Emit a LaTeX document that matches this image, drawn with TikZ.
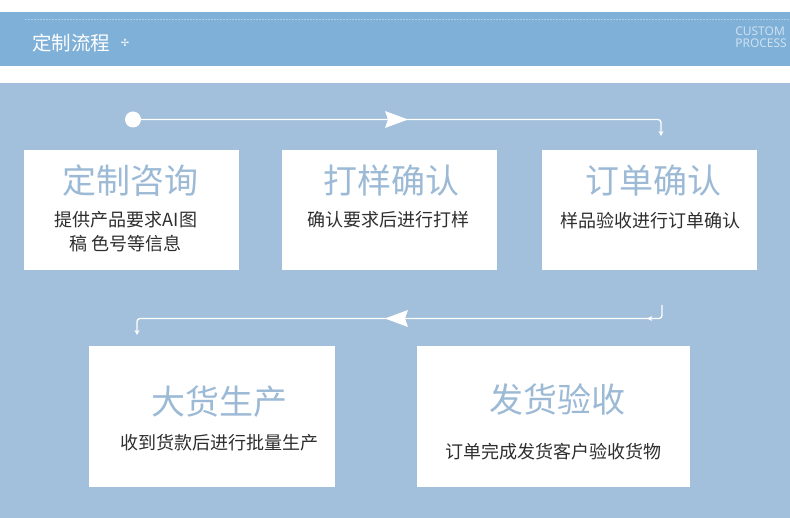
\documentclass[tikz,border=0pt]{standalone}
\usepackage{fontspec}
\setmainfont{Noto Sans CJK SC}
\newfontfamily\latinf{Noto Sans}
\newfontfamily\symf{DejaVu Sans}
\usetikzlibrary{arrows.meta}
\definecolor{hdr}{HTML}{7EB0D8}
\definecolor{bgc}{HTML}{A2BFDB}
\definecolor{ttl}{HTML}{9CBAD5}
\definecolor{subc}{HTML}{2E2E2E}
\definecolor{engc}{HTML}{CFE1F0}
\begin{document}
\begin{tikzpicture}[x=1pt,y=-1pt,
  card/.style={fill=white,draw=none,inner sep=0pt,minimum width=#1},
  cardtitle/.style={text=ttl,font=\fontsize{34}{36}\selectfont,inner sep=0pt},
  cardsub/.style={text=subc,font=\fontsize{18}{24}\selectfont,inner sep=0pt,align=center},
  flow/.style={draw=white,line width=1.3pt,rounded corners=3pt},
  tip/.style={-{Stealth[length=5pt,width=5pt]}}
]
\useasboundingbox (0,0) rectangle (790,518);
\fill[white] (0,0) rectangle (790,518);
% header band
\fill[hdr] (0,12) rectangle (790,66);
\draw[white!35!hdr,line width=0.6pt,dash pattern=on 1.5pt off 1.5pt] (25,19) -- (790,19);
\node[text=white,font=\fontsize{19.5}{20}\selectfont,anchor=west,inner sep=0pt] (htitle) at (32,43) {定制流程};
\node[text=white,font=\symf\fontsize{10}{10}\selectfont,inner sep=0pt] (hmark) at (125,43) {✢};
\node[text=engc,font=\latinf\fontsize{12}{12}\selectfont,anchor=east,align=left,inner sep=0pt] (heng) at (787,37) {CUSTOM\\PROCESS};
% main background
\fill[bgc] (0,83) rectangle (790,518);
% cards
\node[card=215pt,minimum height=120pt] (b1) at (131.5,210) {};
\node[card=215pt,minimum height=120pt] (b2) at (389.5,210) {};
\node[card=215pt,minimum height=120pt] (b3) at (649.5,210) {};
\node[card=246pt,minimum height=141pt] (b4) at (211.5,416.5) {};
\node[card=273pt,minimum height=141pt] (b5) at (553.5,416.5) {};
% titles
\node[cardtitle] (t1) at (130,181) {定制咨询};
\node[cardtitle] (t2) at (391,181) {打样确认};
\node[cardtitle] (t3) at (653,181) {订单确认};
\node[cardtitle] (t4) at (219,402) {大货生产};
\node[cardtitle] (t5) at (557,400) {发货验收};
% subtitles
\node[cardsub] (s1) at (126,232) {提供产品要求AI图\\稿 色号等信息};
\node[cardsub] (s2) at (388,220) {确认要求后进行打样};
\node[cardsub] (s3) at (650,221) {样品验收进行订单确认};
\node[cardsub] (s4) at (219,443) {收到货款后进行批量生产};
\node[cardsub] (s5) at (553,452) {订单完成发货客户验收货物};
% connectors
\node[circle,fill=white,minimum size=16pt,inner sep=0pt] (start) at (133,119.5) {};
\coordinate (c1) at (661,119.5);
\coordinate (e1) at (661,136);
\draw[flow,tip] (start.center) -- (c1) -- (e1);
\coordinate (m1) at (396,119.5);
\fill[white] ([shift={(-11,-8.5)}]m1) -- ([shift={(12,0)}]m1) -- ([shift={(-11,8.5)}]m1) -- ([shift={(-8,0)}]m1) -- cycle;
\coordinate (s2a) at (662,305);
\coordinate (c2) at (662,318.5);
\coordinate (c3) at (137,318.5);
\coordinate (e2) at (137,335);
\draw[flow,tip] (s2a) -- (c2) -- (c3) -- (e2);
\coordinate (m2) at (397,318.5);
\fill[white] ([shift={(11,-8.5)}]m2) -- ([shift={(-12,0)}]m2) -- ([shift={(11,8.5)}]m2) -- ([shift={(8,0)}]m2) -- cycle;
\coordinate (k2) at (650,318.5);
\fill[white] ([shift={(-3,0)}]k2) -- ([shift={(2,-2.5)}]k2) -- ([shift={(1,0)}]k2) -- ([shift={(2,2.5)}]k2) -- cycle;
\end{tikzpicture}
\end{document}
